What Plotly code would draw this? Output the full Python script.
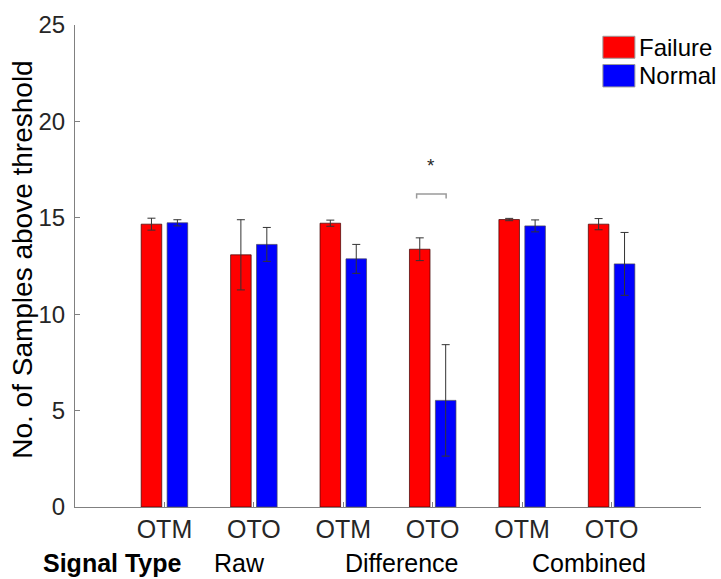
import plotly.graph_objects as go

# ---- data ----
categories = ["OTM", "OTO", "OTM", "OTO", "OTM", "OTO"]
positions = [1, 2, 3, 4, 5, 6]
failure_mean = [14.67, 13.08, 14.72, 13.37, 14.91, 14.67]
failure_err = [0.31, 1.82, 0.16, 0.59, 0.06, 0.29]
normal_mean = [14.74, 13.62, 12.87, 5.53, 14.58, 12.61]
normal_err = [0.16, 0.88, 0.75, 2.89, 0.31, 1.63]
signal_types = ["Raw", "Difference", "Combined"]
signal_type_x = [1.84, 3.66, 5.745]
y_ticks = [0, 5, 10, 15, 20, 25]

FONT = "Liberation Sans, Arial, Helvetica, sans-serif"
TXT = "#262626"
AX = "#808080"

fig = go.Figure()
fig.add_trace(go.Bar(
    x=positions, y=failure_mean, name="Failure",
    width=0.23, offset=-0.26,
    marker=dict(color="#FF0000", line=dict(color="rgba(60,0,0,0.7)", width=1)),
    error_y=dict(type="data", array=failure_err, visible=True,
                 color="#333333", thickness=1, width=4),
    showlegend=False,
))
fig.add_trace(go.Bar(
    x=positions, y=normal_mean, name="Normal",
    width=0.23, offset=0.03,
    marker=dict(color="#0000FF", line=dict(color="rgba(70,70,90,0.7)", width=1)),
    error_y=dict(type="data", array=normal_err, visible=True,
                 color="#333333", thickness=1, width=4),
    showlegend=False,
))

# significance bracket between Difference OTO bars
fig.add_shape(type="path", xref="x", yref="y",
              path="M 3.82,16.0 L 3.82,16.24 L 4.15,16.24 L 4.15,16.0",
              line=dict(color="#9a9a9a", width=1.5))
fig.add_annotation(x=3.985, y=17.7, xref="x", yref="y", text="*",
                   showarrow=False, font=dict(family=FONT, size=19, color=TXT))

# manual legend
legend_items = [("Failure", "#FF0000", 0.9766, 0.931),
                ("Normal", "#0000FF", 0.918, 0.8715)]
for label, col, y1, y0 in legend_items:
    fig.add_shape(type="rect", xref="paper", yref="paper",
                  x0=0.8433, x1=0.8944, y0=y0, y1=y1,
                  fillcolor=col, line=dict(color="#9a9a9a", width=1))
    fig.add_annotation(xref="paper", yref="paper", x=0.897, y=(y0 + y1) / 2,
                       text=label, showarrow=False, xanchor="left", yanchor="middle",
                       font=dict(family=FONT, size=24, color="#000000"))

# signal type labels
fig.add_annotation(xref="x", yref="paper", x=0.42, y=-0.117, text="<b>Signal Type</b>",
                   showarrow=False, xanchor="center", yanchor="middle",
                   font=dict(family=FONT, size=25, color="#000000"))
for t, xx in zip(signal_types, signal_type_x):
    fig.add_annotation(xref="x", yref="paper", x=xx, y=-0.117, text=t,
                       showarrow=False, xanchor="center", yanchor="middle",
                       font=dict(family=FONT, size=25, color="#000000"))

# y-axis title
fig.add_annotation(xref="paper", yref="paper", x=-0.083, y=0.513,
                   text="No. of Samples above threshold", textangle=-90,
                   showarrow=False, xanchor="center", yanchor="middle",
                   font=dict(family=FONT, size=28, color="#000000"))

fig.update_layout(
    width=721, height=579,
    margin=dict(l=75.4, r=20, t=24.7, b=72),
    paper_bgcolor="white", plot_bgcolor="white",
    barmode="overlay",
    font=dict(family=FONT, color=TXT),
    xaxis=dict(range=[0, 7], tickmode="array", tickvals=positions, ticktext=categories,
               showline=True, linecolor=AX, linewidth=1,
               ticks="inside", ticklen=5, tickcolor=AX, tickwidth=1,
               showgrid=False, zeroline=False,
               tickfont=dict(family=FONT, size=25, color=TXT)),
    yaxis=dict(range=[0, 25], tickmode="array", tickvals=y_ticks,
               showline=True, linecolor=AX, linewidth=1,
               ticks="inside", ticklen=5, tickcolor=AX, tickwidth=1,
               showgrid=False, zeroline=False, ticklabelstandoff=4,
               tickfont=dict(family=FONT, size=24, color=TXT)),
)

fig.write_html("out.html")
